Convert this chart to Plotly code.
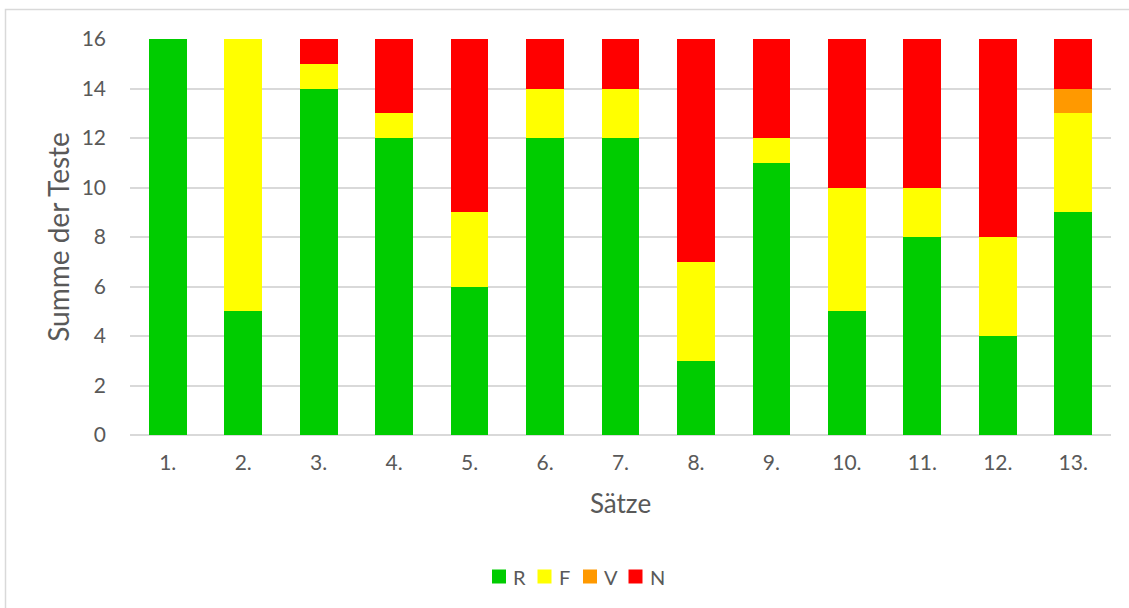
import plotly.graph_objects as go

saetze = ["1.", "2.", "3.", "4.", "5.", "6.", "7.", "8.", "9.", "10.", "11.", "12.", "13."]
r_vals = [16, 5, 14, 12, 6, 12, 12, 3, 11, 5, 8, 4, 9]
f_vals = [0, 11, 1, 1, 3, 2, 2, 4, 1, 5, 2, 4, 4]
v_vals = [0, 0, 0, 0, 0, 0, 0, 0, 0, 0, 0, 0, 1]
n_vals = [0, 0, 1, 3, 7, 2, 2, 9, 4, 6, 6, 8, 2]
y_ticks = [0, 2, 4, 6, 8, 10, 12, 14, 16]

series = [
    ("R", r_vals, "#00CC00"),
    ("F", f_vals, "#FFFF00"),
    ("V", v_vals, "#FF9900"),
    ("N", n_vals, "#FF0000"),
]

font_family = "Lato, 'Open Sans', sans-serif"
text_col = "#595959"

W, H = 1129, 608
M_L, M_R, M_T, M_B = 130, 18, 39, 173
PW, PH = W - M_L - M_R, H - M_T - M_B


def px_x(p):
    return (p - M_L) / PW


def px_y(p):
    return (H - M_B - p) / PH


fig = go.Figure()
for name, vals, col in series:
    fig.add_trace(go.Bar(
        x=saetze, y=vals, name=name,
        marker=dict(color=col, line=dict(width=0)),
        showlegend=False,
    ))

# frame around the whole chart area
shapes = [
    dict(
        type="rect", xref="paper", yref="paper",
        x0=px_x(5.5), x1=px_x(1140),
        y0=px_y(640), y1=px_y(9.5),
        line=dict(color="#d9d9d9", width=1.5),
        fillcolor="rgba(0,0,0,0)",
        layer="below",
    )
]

# legend row below the axis title: swatch + label per series
annotations = []
legend_left, legend_step, sw = 492, 45.5, 14
legend_mid = 576.5
for i, (name, _, col) in enumerate(series):
    x0 = legend_left + i * legend_step
    shapes.append(dict(
        type="rect", xref="paper", yref="paper",
        x0=px_x(x0), x1=px_x(x0 + sw),
        y0=px_y(legend_mid + sw / 2), y1=px_y(legend_mid - sw / 2),
        line=dict(width=0), fillcolor=col,
    ))
    annotations.append(dict(
        xref="paper", yref="paper",
        x=px_x(x0 + sw + 5), y=px_y(legend_mid),
        xanchor="left", yanchor="middle",
        text=name, showarrow=False,
        font=dict(size=20, color=text_col, family=font_family),
    ))

fig.update_layout(
    barmode="stack",
    bargap=0.5,
    width=W, height=H,
    margin=dict(l=M_L, r=M_R, t=M_T, b=M_B),
    paper_bgcolor="white",
    plot_bgcolor="white",
    font=dict(family=font_family, color=text_col, size=21),
    showlegend=False,
    xaxis=dict(
        showgrid=False,
        showline=False,
        ticks="",
        ticklabelstandoff=13,
        tickfont=dict(size=21, color=text_col),
        title=dict(text="Sätze", font=dict(size=26, color=text_col), standoff=21),
    ),
    yaxis=dict(
        range=[0, 16],
        tickvals=y_ticks,
        showgrid=True,
        gridcolor="#d9d9d9",
        gridwidth=1.5,
        zeroline=True,
        zerolinecolor="#d9d9d9",
        zerolinewidth=1.5,
        showline=False,
        ticks="",
        ticklabelstandoff=23,
        tickfont=dict(size=21, color=text_col),
        title=dict(text="Summe der Teste", font=dict(size=28, color=text_col), standoff=3),
    ),
    shapes=shapes,
    annotations=annotations,
)

fig.write_html("out.html")
